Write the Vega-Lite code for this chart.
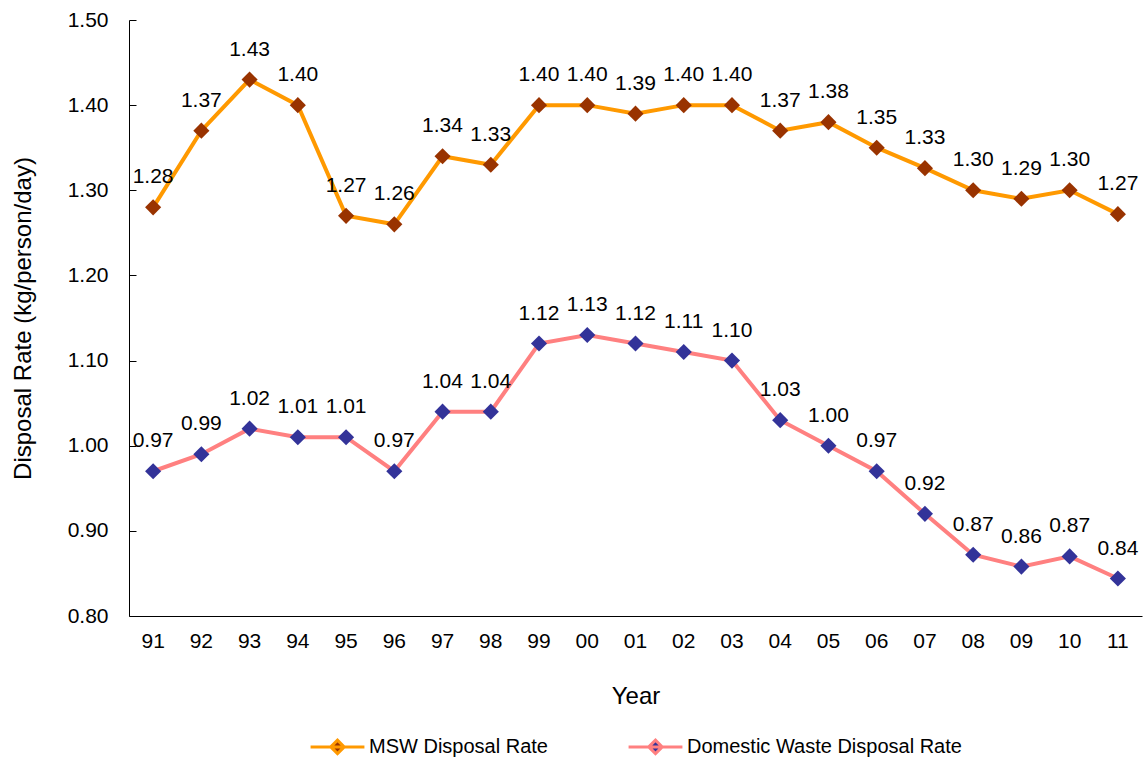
{
  "$schema": "https://vega.github.io/schema/vega-lite/v6.json",
  "width": 1013,
  "height": 596,
  "autosize": "none",
  "padding": {"left": 129, "top": 20, "right": 4, "bottom": 147},
  "background": "white",
  "config": {
    "view": {"stroke": null},
    "font": "Liberation Sans",
    "legend": {"layout": {"bottom": {"anchor": "middle"}}}
  },
  "data": {
    "values": [
      {"year": "91", "series": "MSW Disposal Rate", "value": 1.28},
      {"year": "92", "series": "MSW Disposal Rate", "value": 1.37},
      {"year": "93", "series": "MSW Disposal Rate", "value": 1.43},
      {"year": "94", "series": "MSW Disposal Rate", "value": 1.40},
      {"year": "95", "series": "MSW Disposal Rate", "value": 1.27},
      {"year": "96", "series": "MSW Disposal Rate", "value": 1.26},
      {"year": "97", "series": "MSW Disposal Rate", "value": 1.34},
      {"year": "98", "series": "MSW Disposal Rate", "value": 1.33},
      {"year": "99", "series": "MSW Disposal Rate", "value": 1.40},
      {"year": "00", "series": "MSW Disposal Rate", "value": 1.40},
      {"year": "01", "series": "MSW Disposal Rate", "value": 1.39},
      {"year": "02", "series": "MSW Disposal Rate", "value": 1.40},
      {"year": "03", "series": "MSW Disposal Rate", "value": 1.40},
      {"year": "04", "series": "MSW Disposal Rate", "value": 1.37},
      {"year": "05", "series": "MSW Disposal Rate", "value": 1.38},
      {"year": "06", "series": "MSW Disposal Rate", "value": 1.35},
      {"year": "07", "series": "MSW Disposal Rate", "value": 1.326},
      {"year": "08", "series": "MSW Disposal Rate", "value": 1.30},
      {"year": "09", "series": "MSW Disposal Rate", "value": 1.29},
      {"year": "10", "series": "MSW Disposal Rate", "value": 1.30},
      {"year": "11", "series": "MSW Disposal Rate", "value": 1.272},
      {"year": "91", "series": "Domestic Waste Disposal Rate", "value": 0.97},
      {"year": "92", "series": "Domestic Waste Disposal Rate", "value": 0.99},
      {"year": "93", "series": "Domestic Waste Disposal Rate", "value": 1.02},
      {"year": "94", "series": "Domestic Waste Disposal Rate", "value": 1.01},
      {"year": "95", "series": "Domestic Waste Disposal Rate", "value": 1.01},
      {"year": "96", "series": "Domestic Waste Disposal Rate", "value": 0.97},
      {"year": "97", "series": "Domestic Waste Disposal Rate", "value": 1.04},
      {"year": "98", "series": "Domestic Waste Disposal Rate", "value": 1.04},
      {"year": "99", "series": "Domestic Waste Disposal Rate", "value": 1.12},
      {"year": "00", "series": "Domestic Waste Disposal Rate", "value": 1.13},
      {"year": "01", "series": "Domestic Waste Disposal Rate", "value": 1.12},
      {"year": "02", "series": "Domestic Waste Disposal Rate", "value": 1.11},
      {"year": "03", "series": "Domestic Waste Disposal Rate", "value": 1.10},
      {"year": "04", "series": "Domestic Waste Disposal Rate", "value": 1.03},
      {"year": "05", "series": "Domestic Waste Disposal Rate", "value": 1.00},
      {"year": "06", "series": "Domestic Waste Disposal Rate", "value": 0.97},
      {"year": "07", "series": "Domestic Waste Disposal Rate", "value": 0.92},
      {"year": "08", "series": "Domestic Waste Disposal Rate", "value": 0.872},
      {"year": "09", "series": "Domestic Waste Disposal Rate", "value": 0.858},
      {"year": "10", "series": "Domestic Waste Disposal Rate", "value": 0.87},
      {"year": "11", "series": "Domestic Waste Disposal Rate", "value": 0.844}
    ]
  },
  "encoding": {
    "x": {
      "field": "year",
      "type": "ordinal",
      "sort": null,
      "scale": {"type": "band", "paddingInner": 0, "paddingOuter": 0},
      "axis": {
        "title": "Year",
        "labelAngle": 0,
        "ticks": false,
        "domainColor": "#000000",
        "domainWidth": 1,
        "labelFont": "Liberation Sans",
        "labelFontSize": 21,
        "labelColor": "#000000",
        "labelPadding": 14,
        "titleFont": "Liberation Sans",
        "titleFontSize": 24,
        "titleFontWeight": "normal",
        "titleColor": "#000000",
        "titlePadding": 33
      }
    },
    "y": {
      "field": "value",
      "type": "quantitative",
      "scale": {"domain": [0.8, 1.5], "nice": false, "zero": false},
      "axis": {
        "title": "Disposal Rate (kg/person/day)",
        "values": [0.8, 0.9, 1.0, 1.1, 1.2, 1.3, 1.4, 1.5],
        "format": ".2f",
        "grid": false,
        "tickSize": -7,
        "tickColor": "#000000",
        "domainColor": "#000000",
        "labelFont": "Liberation Sans",
        "labelFontSize": 21,
        "labelColor": "#000000",
        "labelPadding": 28,
        "titleFont": "Liberation Sans",
        "titleFontSize": 24,
        "titleFontWeight": "normal",
        "titleColor": "#000000",
        "titlePadding": 32
      }
    }
  },
  "layer": [
    {
      "mark": {"type": "line", "strokeWidth": 4},
      "encoding": {
        "color": {
          "field": "series",
          "type": "nominal",
          "scale": {
            "domain": ["MSW Disposal Rate", "Domestic Waste Disposal Rate"],
            "range": ["#FF9900", "#FF8080"]
          },
          "legend": {
            "title": null,
            "orient": "bottom",
            "direction": "horizontal",
            "symbolType": "M-1,0L1,0M-0.25,0L0,-0.25L0.25,0L0,0.25Z",
            "symbolSize": 2900,
            "symbolStrokeWidth": 3,
            "labelFont": "Liberation Sans",
            "labelFontSize": 20,
            "labelLimit": 0,
            "labelColor": "#000000",
            "labelOffset": 3,
            "columnPadding": 74,
            "offset": 10
          }
        }
      }
    },
    {
      "mark": {"type": "point", "shape": "diamond", "filled": true, "size": 260, "opacity": 1},
      "encoding": {
        "fill": {
          "field": "series",
          "type": "nominal",
          "scale": {
            "domain": ["MSW Disposal Rate", "Domestic Waste Disposal Rate"],
            "range": ["#993300", "#333399"]
          },
          "legend": {
            "title": null,
            "orient": "bottom",
            "direction": "horizontal",
            "symbolType": "M-1,0L1,0M-0.25,0L0,-0.25L0.25,0L0,0.25Z",
            "symbolSize": 2900,
            "symbolStrokeWidth": 3,
            "labelFont": "Liberation Sans",
            "labelFontSize": 20,
            "labelLimit": 0,
            "labelColor": "#000000",
            "labelOffset": 3,
            "columnPadding": 74,
            "offset": 10
          }
        }
      }
    },
    {
      "mark": {"type": "text", "dy": -30, "font": "Liberation Sans", "fontSize": 21, "color": "#000000"},
      "encoding": {
        "text": {"field": "value", "type": "quantitative", "format": ".2f"}
      }
    }
  ]
}
